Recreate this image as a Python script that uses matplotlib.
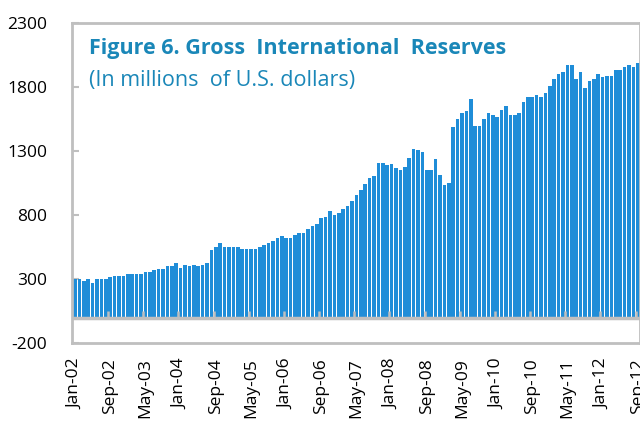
import numpy as np
import pandas as pd
from matplotlib import pyplot as plt

# ---------------------------------------------------------------------------
# Data: gross international reserves, monthly, Jan-02 .. Sep-12 (millions USD)
# ---------------------------------------------------------------------------
reserves_2002_03 = [300, 300, 287, 300, 271, 300, 300, 300, 313, 326, 326, 326,
                    341, 341, 341, 341, 357, 357, 372, 383, 383, 399, 399, 425]
reserves_2004_05 = [386, 411, 399, 411, 399, 411, 427, 526, 552, 580, 552, 552,
                    552, 552, 539, 539, 539, 539, 552, 565, 580, 594, 622, 635]
reserves_2006_07 = [625, 625, 648, 664, 664, 690, 718, 731, 775, 788, 830, 804,
                    820, 845, 871, 913, 954, 996, 1040, 1092, 1108, 1206, 1206, 1193]
reserves_2008_10 = [1196, 1165, 1151, 1178, 1248, 1318, 1305, 1292, 1154, 1154,
                    1235, 1110, 1038, 1053, 1487, 1555, 1599, 1612, 1709, 1500,
                    1500, 1555, 1599, 1585, 1570, 1624]
reserves_2010_12 = [1653, 1585, 1585, 1598, 1681, 1724, 1724, 1737, 1724, 1752,
                    1806, 1863, 1905, 1918, 1975, 1975, 1863, 1918, 1793, 1850,
                    1863, 1905, 1876, 1889, 1889, 1932, 1932, 1961, 1975, 1961, 1988]

values = np.array(reserves_2002_03 + reserves_2004_05 + reserves_2006_07
                  + reserves_2008_10 + reserves_2010_12, dtype=float)
months = pd.date_range("2002-01-01", periods=len(values), freq="MS")
labels = [m.strftime("%b-%y") for m in months]

y_ticks = [-200, 300, 800, 1300, 1800, 2300]
label_step = 8

# ---------------------------------------------------------------------------
# Figure
# ---------------------------------------------------------------------------
plt.rcParams["font.family"] = ["Open Sans", "DejaVu Sans"]
GRID_GREY = "#BFBFBF"
BAR_BLUE = "#1F8DD8"
TITLE_BLUE = "#1A87B8"

fig = plt.figure(figsize=(6.4, 4.21), dpi=100)
ax = fig.add_axes([0.1125, 0.185, 0.8875, 0.76])

x = np.arange(len(values))
ax.bar(x, values, width=0.82, color=BAR_BLUE, edgecolor="none", zorder=2)

ax.set_xlim(-0.7, 128.5)
ax.set_ylim(-200, 2300)
ax.set_yticks(y_ticks)
ax.set_yticklabels([str(v) for v in y_ticks])

tick_idx = x[::label_step]
ax.set_xticks(tick_idx)
ax.set_xticklabels([labels[i] for i in tick_idx], rotation=90, va="top", ha="center")

ax.tick_params(axis="x", length=0, pad=11, labelsize=12.5, colors="black")
ax.tick_params(axis="y", length=5, width=1.5, direction="in", color=GRID_GREY,
               pad=18, labelsize=12.5, labelcolor="black")

for side in ("left", "bottom", "top", "right"):
    ax.spines[side].set_color(GRID_GREY)
    ax.spines[side].set_linewidth(2)

# category axis drawn at zero, with small upward ticks between groups
ax.axhline(0, color=GRID_GREY, lw=2.5, zorder=3)
ax.vlines(tick_idx[1:] - 0.5, 0, 50, color=GRID_GREY, lw=1.8, zorder=3)

ax.text(0.03, 0.92, "Figure 6. Gross  International  Reserves", transform=ax.transAxes,
        fontsize=15.5, fontweight="bold", color=TITLE_BLUE, ha="left", va="center")
ax.text(0.03, 0.82, "(In millions  of U.S. dollars)", transform=ax.transAxes,
        fontsize=15.5, color=TITLE_BLUE, ha="left", va="center")

fig.savefig("out.png", dpi=100)
